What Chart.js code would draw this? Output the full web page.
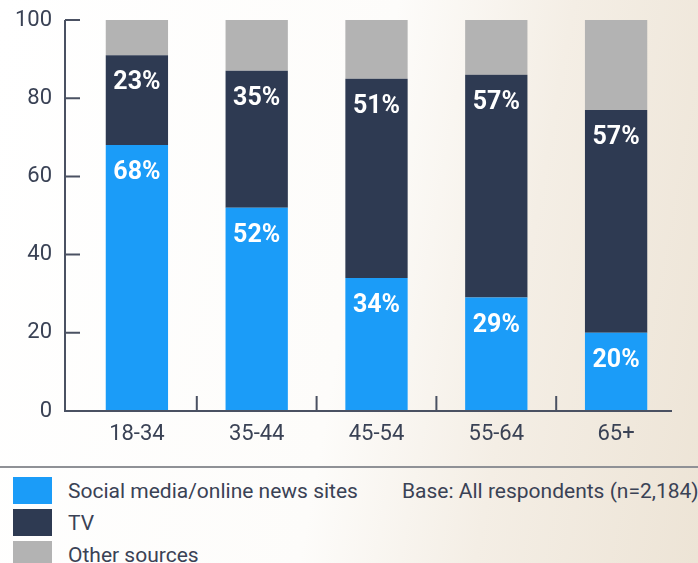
<!DOCTYPE html>
<html>
<head>
<meta charset="utf-8">
<script src="https://cdn.jsdelivr.net/npm/chart.js@4/dist/chart.umd.min.js"></script>
<style>
    html, body { margin: 0; padding: 0; }
    body {
        width: 698px; height: 563px; position: relative; overflow: hidden;
        background: linear-gradient(100deg, #ffffff 0%, #fdfcfa 50%, #f4eee5 72%, #ede4d6 100%);
        font-family: Roboto, sans-serif;
        color: #3a4255;
    }
    #wrap { position: absolute; left: 0; top: 0; width: 698px; height: 460px; }
    .sep { position: absolute; left: 0; top: 466px; width: 698px; height: 2px; background: #8f9196; }
    .item { position: absolute; left: 13px; height: 27px; }
    .swatch { position: absolute; left: 0; top: 0; width: 39px; height: 27px; }
    .label { position: absolute; left: 55px; top: 0; line-height: 29px; font-size: 21px; white-space: nowrap; }
    .base { position: absolute; left: 402px; top: 477px; line-height: 29px; font-size: 21px; white-space: nowrap; }
</style>
</head>
<body>
<div id="wrap"><canvas id="chart"></canvas></div>
<div class="sep"></div>
<div id="legend"></div>
<div class="base">Base: All respondents (n=2,184)</div>
<script>
const categories = ["18-34", "35-44", "45-54", "55-64", "65+"];
const socialValues = [68, 52, 34, 29, 20];
const tvValues = [23, 35, 51, 57, 57];
const otherValues = [9, 13, 15, 14, 23];
const seriesLabels = ["Social media/online news sites", "TV", "Other sources"];
const yTicks = [0, 20, 40, 60, 80, 100];

const colors = ["#1b9cf8", "#2e3a52", "#b3b3b3"];
const axisColor = "#4a5162";

// axis lines drawn by hand: ticks point inward, x ticks sit between bars
const axisPlugin = {
    id: 'axisLines',
    afterDraw(chart) {
        let ctx = chart.ctx;
        let x = chart.scales.x;
        let y = chart.scales.y;
        let left = 65;
        let bottom = y.getPixelForValue(0);
        ctx.save();
        ctx.strokeStyle = axisColor;
        ctx.lineWidth = 2;
        ctx.beginPath();
        ctx.moveTo(left, y.getPixelForValue(100));
        ctx.lineTo(left, bottom);
        ctx.lineTo(672, bottom);
        for (let v of yTicks) {
            let py = y.getPixelForValue(v);
            ctx.moveTo(left, py);
            ctx.lineTo(left + 15, py);
        }
        for (let i = 0; i < categories.length - 1; i++) {
            let px = (x.getPixelForValue(i) + x.getPixelForValue(i + 1)) / 2;
            ctx.moveTo(px, bottom);
            ctx.lineTo(px, bottom - 15);
        }
        ctx.stroke();
        ctx.restore();
    }
};

const valueLabelPlugin = {
    id: 'valueLabels',
    afterDatasetsDraw(chart) {
        let ctx = chart.ctx;
        ctx.save();
        ctx.fillStyle = "#ffffff";
        ctx.font = "bold 25px Roboto";
        ctx.textAlign = "center";
        ctx.textBaseline = "middle";
        for (let d = 0; d < 2; d++) {
            let meta = chart.getDatasetMeta(d);
            let values = chart.data.datasets[d].data;
            meta.data.forEach((bar, i) => {
                ctx.fillText(values[i] + "%", bar.x, bar.y + 28);
            });
        }
        ctx.restore();
    }
};

let datasets = [socialValues, tvValues, otherValues].map((vals, i) => ({
    label: seriesLabels[i],
    data: vals,
    backgroundColor: colors[i],
    borderWidth: 0,
    barPercentage: 0.52,
    categoryPercentage: 1
}));

new Chart(document.getElementById("chart"), {
    type: "bar",
    data: { labels: categories, datasets: datasets },
    options: {
        responsive: true,
        maintainAspectRatio: false,
        animation: false,
        layout: { padding: { top: 20, right: 22, left: 0, bottom: 0 } },
        plugins: { legend: { display: false }, tooltip: { enabled: false } },
        scales: {
            x: {
                stacked: true,
                grid: { display: false, drawTicks: false },
                border: { display: false },
                ticks: { color: "#3a4255", font: { family: "Roboto", size: 22 }, padding: 10 },
                afterFit(scale) {
                    scale.height = 49;
                    scale.paddingLeft = 0;
                    scale.paddingRight = 0;
                }
            },
            y: {
                stacked: true,
                min: 0, max: 100,
                grid: { display: false, drawTicks: false },
                border: { display: false },
                ticks: { stepSize: 20, color: "#3a4255", font: { family: "Roboto", size: 22 }, padding: 25 },
                afterFit(scale) {
                    scale.width = 77;
                    scale.paddingTop = 0;
                    scale.paddingBottom = 0;
                }
            }
        }
    },
    plugins: [axisPlugin, valueLabelPlugin]
});

// legend
let legend = document.getElementById("legend");
seriesLabels.forEach((name, i) => {
    let item = document.createElement("div");
    item.className = "item";
    item.style.top = (477 + i * 32) + "px";
    item.innerHTML = '<div class="swatch" style="background:' + colors[i] + '"></div><div class="label">' + name + '</div>';
    legend.appendChild(item);
});
</script>
</body>
</html>
